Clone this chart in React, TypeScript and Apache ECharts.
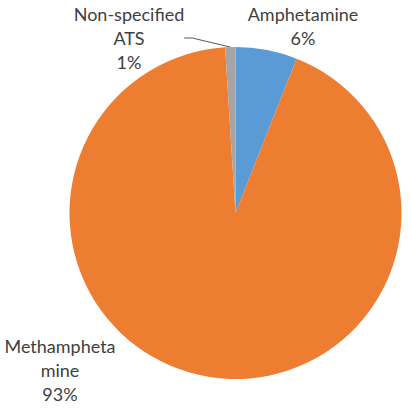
import React, { useEffect, useRef } from "react";
import * as echarts from "echarts";

// 数据
const categories = ["Amphetamine", "Methamphetamine", "Non-specified ATS"];
const labelNames = ["Amphetamine", "Methampheta\nmine", "Non-specified\nATS"];
const values = [6, 93, 1];
const colors = ["#5B9BD5", "#ED7D31", "#A5A5A5"];
// label block centres (x, y) in px
const labelPos = [
    [303, 26],
    [60, 370],
    [129, 38],
];

const App: React.FC = () => {
    const ref = useRef<HTMLDivElement>(null);

    useEffect(() => {
        if (!ref.current) return;
        const chart = echarts.init(ref.current, undefined, { renderer: "svg" });

        const option = {
            animation: false,
            series: [
                {
                    type: "pie",
                    center: [235.5, 213],
                    radius: 166,
                    startAngle: 90,
                    clockwise: true,
                    silent: true,
                    itemStyle: { borderWidth: 0 },
                    label: {
                        show: true,
                        position: "outside",
                        fontFamily: "Lato",
                        fontSize: 18,
                        lineHeight: 24,
                        color: "#404040",
                        align: "center",
                        formatter: (p: any) => `${labelNames[p.dataIndex]}\n${Math.round(p.percent)}%`,
                    },
                    labelLine: {
                        show: true,
                        length: 10,
                        length2: 8,
                        lineStyle: { color: "#595959", width: 1 },
                    },
                    labelLayout: (p: any) => ({
                        x: labelPos[p.dataIndex][0],
                        y: labelPos[p.dataIndex][1],
                        align: "center",
                        verticalAlign: "middle",
                    }),
                    data: categories.map((name, i) => ({
                        name,
                        value: values[i],
                        itemStyle: { color: colors[i] },
                        labelLine: { show: i === 2 },
                    })),
                },
            ],
        };

        chart.setOption(option);

        return () => {
            chart.dispose();
        };
    }, []);

    return (
        <div
            ref={ref}
            style={{ position: "absolute", left: 0, top: 0, width: 411, height: 415 }}
        />
    );
};

export default App;
